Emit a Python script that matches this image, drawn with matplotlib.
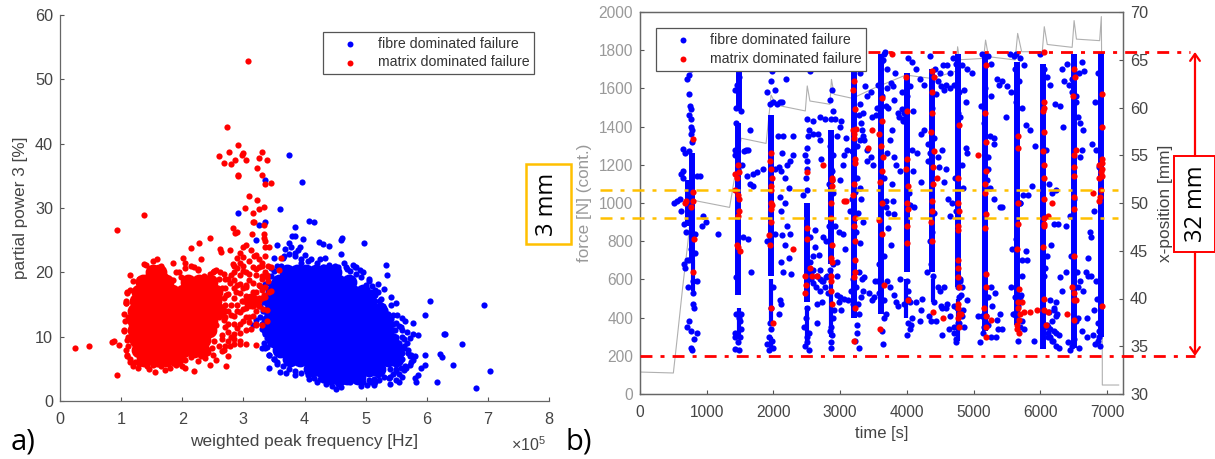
import matplotlib
matplotlib.use("Agg")
import matplotlib.pyplot as plt
from matplotlib.patches import Rectangle

plt.rcParams['font.family'] = ['Liberation Sans', 'DejaVu Sans']
plt.rcParams['mathtext.default'] = 'regular'

W, H = 1215, 459
BLUE = '#0000ff'
RED = '#ff0000'
YEL = '#ffc000'

# ---- a) the dense middle of each cloud, one list of x per y level
blue_core = {
    20.0: [3.72, 3.88, 4.02, 4.18, 4.32, 4.48],
    18.5: [3.58, 3.74, 3.9, 4.06, 4.22, 4.38, 4.54, 4.72],
    17.0: [3.48, 3.64, 3.8, 3.96, 4.12, 4.28, 4.44, 4.6, 4.78, 4.96],
    15.5: [3.46, 3.62, 3.78, 3.94, 4.1, 4.26, 4.42, 4.58, 4.74, 4.9, 5.06],
    14.0: [3.45, 3.61, 3.77, 3.93, 4.09, 4.25, 4.41, 4.57, 4.73, 4.89, 5.05, 5.18],
    12.5: [3.42, 3.58, 3.74, 3.9, 4.06, 4.22, 4.38, 4.54, 4.7, 4.86, 5.02, 5.18, 5.3],
    11.0: [3.42, 3.58, 3.74, 3.9, 4.06, 4.22, 4.38, 4.54, 4.7, 4.86, 5.02, 5.18, 5.34],
    9.5: [3.5, 3.66, 3.82, 3.98, 4.14, 4.3, 4.46, 4.62, 4.78, 4.94, 5.1, 5.26, 5.42],
    8.0: [3.6, 3.76, 3.92, 4.08, 4.24, 4.4, 4.56, 4.72, 4.88, 5.04, 5.2, 5.36, 5.5],
    6.5: [3.76, 3.92, 4.08, 4.24, 4.4, 4.56, 4.72, 4.88, 5.04, 5.2, 5.36, 5.5],
    5.0: [4.1, 4.26, 4.42, 4.58, 4.74, 4.9, 5.06, 5.2],
    3.8: [4.4, 4.55, 4.7, 4.88],
}
red_core = {
    20.0: [1.52, 1.62],
    18.5: [1.36, 1.55, 1.74, 2.1, 2.28, 2.46],
    17.0: [1.3, 1.48, 1.66, 1.84, 2.02, 2.2, 2.38, 2.54],
    15.5: [1.26, 1.44, 1.62, 1.8, 1.98, 2.16, 2.34, 2.52, 3.12],
    14.0: [1.22, 1.4, 1.58, 1.76, 1.94, 2.12, 2.3, 2.48, 2.6],
    12.5: [1.22, 1.4, 1.58, 1.76, 1.94, 2.12, 2.3, 2.46],
    11.0: [1.22, 1.4, 1.58, 1.76, 1.94, 2.12, 2.3, 2.44],
    9.5: [1.26, 1.44, 1.62, 1.8, 1.98, 2.16, 2.34],
    8.0: [1.3, 1.48, 1.66, 1.84, 2.02, 2.2, 2.32],
    6.5: [1.38, 1.56, 1.74, 1.9],
}

# ---- a) single events, read off around the edge of the clouds
blue_x = [3.74, 3.96, 3.35, 2.92, 3.6, 3.35, 3.25, 4.07, 4.15, 3.84, 3.2, 3.8, 3.85, 3.98, 4.24, 4.3, 4.4, 4.62, 4.6, 4.97,
          3.55, 3.75, 3.78, 3.68, 3.92, 3.9, 4.6, 4.34, 3.5, 5.33, 5.35, 5.05, 5.1, 5.15, 5.3, 5.2, 5.42, 5.25, 5.42, 5.5,
          6.05, 5.97, 6.28, 6.3, 6.58, 6.22, 6.25, 6.43, 7.03, 6.93, 6.8, 6.17, 5.78, 5.85, 5.78, 5.72, 5.65, 5.6, 5.52, 5.45,
          5.97, 5.97, 5.9, 5.85, 5.8, 5.82, 5.6, 5.5, 5.55, 5.4, 5.2, 5.13, 5.13, 5.02, 4.92, 4.62, 4.6, 4.52, 4.45, 4.3,
          4.07, 3.85, 3.7, 3.6, 3.42, 3.55, 3.35, 3.3, 3.15, 3.2, 3.3, 3.28, 3.35, 4.65, 4.5, 4.8, 4.85, 4.9, 4.95, 4.7,
          4.4, 4.1, 4.0, 3.85, 5.0, 5.6, 5.7, 5.8, 5.75, 5.65, 5.5, 5.45, 5.35, 5.3, 5.25, 5.48, 5.58, 5.68, 5.72, 5.62,
          4.2, 4.35, 4.55, 4.75, 5.08, 4.25, 3.95, 3.62, 3.45, 3.38, 3.42, 3.5, 5.55, 5.62, 5.4, 5.52, 5.2, 5.05, 4.82, 3.66,
          3.55, 3.65, 3.75, 3.85, 3.95, 4.05, 4.2, 4.3, 4.45, 4.55, 4.68, 4.75, 4.85, 4.92, 5.0, 5.08, 5.15, 5.22, 5.28, 5.32,
          5.36, 5.42, 5.5, 5.55, 5.6, 5.62, 5.68, 5.62, 5.7, 5.74, 5.78, 5.72, 5.66, 5.58, 5.5, 5.45, 5.38, 5.3, 5.22, 5.15,
          5.05, 4.95, 4.85, 4.75, 4.65, 4.55, 4.4, 4.25, 4.15, 4.05, 3.95, 3.85, 3.75, 3.65, 3.55, 3.5, 3.42, 3.38, 3.34, 3.36,
          3.3, 3.28, 3.32, 3.34, 3.4, 3.42, 3.45, 3.5, 5.45, 5.5, 5.55, 5.5, 5.6, 5.55, 5.6, 5.4, 5.45, 5.5]
blue_y = [38.2, 34.1, 34.3, 29.2, 29.9, 27.9, 27.4, 28.0, 27.9, 27.1, 25.0, 25.7, 25.7, 25.2, 24.7, 24.4, 24.1, 25.4, 25.0, 24.6,
          24.2, 24.5, 24.0, 23.6, 24.0, 23.5, 22.9, 22.3, 22.3, 21.1, 19.6, 18.6, 17.8, 17.3, 17.4, 16.9, 16.1, 15.9, 15.0, 15.2,
          15.5, 13.4, 10.4, 10.4, 8.9, 7.3, 6.8, 5.6, 4.7, 15.0, 2.0, 3.0, 12.2, 10.2, 10.4, 9.8, 12.5, 12.9, 13.4, 13.4,
          7.2, 5.6, 5.2, 4.0, 3.5, 3.0, 3.7, 3.3, 2.9, 2.6, 4.0, 3.4, 2.5, 2.5, 2.3, 3.0, 2.1, 1.9, 2.4, 3.2,
          3.4, 4.1, 4.3, 4.5, 5.2, 5.8, 8.2, 8.3, 11.8, 12.6, 12.0, 14.8, 18.2, 21.5, 21.0, 21.2, 20.8, 20.4, 20.0, 20.5,
          21.2, 22.0, 22.7, 22.5, 17.5, 10.0, 8.0, 7.0, 6.0, 5.5, 5.0, 12.0, 13.5, 14.5, 15.0, 11.0, 11.5, 10.8, 7.0, 8.6,
          2.9, 2.7, 2.8, 2.9, 3.0, 22.0, 21.5, 21.0, 20.6, 9.8, 7.2, 6.5, 4.2, 4.8, 3.8, 6.3, 18.2, 19.0, 20.8, 22.6,
          21.0, 22.2, 22.8, 23.0, 22.0, 21.8, 21.5, 20.8, 20.5, 20.8, 20.9, 20.2, 19.8, 19.3, 18.0, 17.0, 16.4, 15.6, 14.8, 14.2,
          13.6, 12.8, 12.2, 11.6, 11.0, 9.6, 9.0, 8.2, 7.4, 7.2, 6.4, 5.6, 5.2, 5.2, 4.6, 4.2, 3.6, 3.8, 3.2, 3.0,
          3.2, 3.0, 3.1, 3.3, 3.6, 2.6, 3.2, 3.4, 3.6, 4.0, 4.3, 4.6, 5.0, 5.4, 6.0, 6.6, 7.2, 8.4, 9.0, 10.4,
          11.2, 13.0, 14.0, 15.4, 16.4, 18.4, 19.5, 20.2, 11.0, 10.0, 9.0, 7.5, 6.5, 6.0, 7.5, 5.0, 6.0, 8.6]

red_x = [0.24, 0.47, 0.85, 0.89, 0.97, 0.94, 0.93, 1.38, 3.08, 2.74, 2.92, 2.77, 2.6, 2.68, 2.8, 2.87, 2.98, 3.0, 3.05, 3.3,
         3.25, 3.38, 3.23, 3.3, 2.92, 2.92, 3.35, 3.45, 3.1, 3.23, 3.02, 3.25, 3.15, 3.33, 3.15, 3.18, 3.34, 2.83, 2.9, 2.87,
         3.14, 3.33, 3.34, 3.35, 3.36, 3.42, 2.45, 2.28, 2.14, 2.61, 2.63, 2.78, 2.83, 2.9, 2.95, 3.0, 3.05, 3.12, 3.2, 3.25,
         3.3, 3.35, 3.4, 3.45, 3.62, 3.58, 2.02, 2.05, 2.3, 2.25, 1.85, 1.95, 1.37, 1.15, 1.1, 1.08, 1.05, 1.08, 1.14, 1.2,
         1.28, 1.45, 1.55, 1.65, 1.9, 2.0, 2.05, 2.2, 2.38, 2.5, 2.55, 2.72, 2.75, 2.65, 2.7, 2.85, 2.95, 3.05, 3.2, 2.65,
         2.7, 2.8, 2.9, 3.0, 3.1, 2.8, 2.9, 3.0, 3.1, 3.2, 3.3, 2.72, 2.85, 2.95, 3.05, 3.15, 3.25, 3.3, 2.75, 2.85,
         3.0, 3.1, 3.2, 3.3, 3.38, 3.35, 3.4, 3.35, 3.42, 3.45, 3.38, 3.32, 3.38, 3.26, 3.2, 2.62, 2.68, 2.78, 2.88, 2.98,
         3.05, 3.15, 3.25, 3.3, 1.08, 1.12, 1.12, 1.1, 2.45, 2.4, 2.35, 2.6, 2.7, 1.32, 1.72, 1.8, 2.55, 2.5, 2.2, 1.88,
         1.1, 1.15, 1.2, 1.3, 1.4, 1.4, 1.48, 1.52, 1.58, 1.65, 1.68, 1.72, 1.85, 1.9, 1.98, 2.05, 2.15, 2.25, 2.35, 2.45,
         2.52, 2.6, 2.65, 2.68, 1.08, 1.05, 1.06, 1.04, 1.1, 1.12, 1.1, 1.15, 1.22, 1.3, 1.42, 1.52, 1.6, 1.7, 1.85, 1.95,
         2.05, 2.15, 2.25, 2.3, 2.42, 2.48, 2.52, 2.5, 2.55, 2.6, 2.62, 2.7, 2.75, 2.68,
         2.7, 2.8, 2.85, 2.9, 2.95, 3.0, 3.05, 3.1, 3.15, 3.2, 3.25, 3.3, 3.1, 3.05, 3.0, 2.95, 2.85, 2.8, 2.9, 3.0,
         3.1, 3.2, 3.28, 3.33, 3.25, 3.15, 3.05, 2.95, 2.85, 2.75, 2.85, 2.95, 3.05, 3.15, 3.2, 2.75, 2.85, 2.95, 3.05, 3.12,
         2.65, 2.75, 2.85, 2.95, 2.6, 2.68, 2.78, 2.75, 2.7, 2.9, 3.0, 3.18, 3.3, 3.35, 3.38, 2.85, 2.95]
red_y = [8.2, 8.6, 9.1, 9.3, 8.7, 4.0, 26.6, 28.9, 52.8, 42.6, 39.8, 38.7, 38.1, 37.0, 36.8, 37.5, 38.2, 38.5, 37.4, 38.7,
         37.7, 37.5, 36.2, 35.2, 35.2, 35.0, 33.8, 33.9, 31.9, 31.3, 30.0, 29.8, 29.2, 30.1, 27.8, 27.8, 27.3, 26.9, 26.3, 26.1,
         25.9, 25.9, 25.4, 24.9, 24.0, 24.0, 25.3, 24.5, 23.8, 23.6, 23.2, 23.4, 21.3, 22.2, 23.0, 24.0, 24.2, 23.5, 22.7, 22.0,
         21.5, 22.5, 21.0, 20.8, 22.3, 20.3, 22.3, 21.5, 22.0, 20.5, 21.4, 20.0, 21.3, 19.6, 16.9, 15.3, 10.9, 8.0, 6.1, 5.5,
         5.2, 5.0, 4.5, 5.5, 5.6, 5.4, 5.2, 4.7, 6.7, 7.1, 6.3, 5.4, 7.0, 7.8, 8.5, 8.8, 8.9, 8.9, 8.7, 10.2,
         11.5, 10.0, 11.3, 12.5, 12.3, 13.3, 14.0, 14.3, 13.0, 12.0, 11.8, 16.5, 17.5, 18.2, 17.7, 18.3, 18.0, 16.0, 19.0, 20.0,
         20.2, 19.8, 20.5, 19.5, 19.2, 17.7, 18.6, 16.2, 17.0, 17.1, 14.2, 14.3, 12.4, 14.8, 11.8, 20.1, 19.7, 18.3, 17.0, 15.6,
         16.3, 17.0, 16.0, 17.2, 15.5, 13.0, 10.0, 7.2, 5.6, 7.4, 8.2, 16.0, 13.0, 18.7, 4.8, 5.1, 20.3, 20.0, 20.8, 5.9,
         16.8, 17.2, 18.6, 19.0, 19.3, 21.2, 20.5, 21.8, 22.0, 21.0, 20.2, 19.5, 18.8, 20.0, 19.2, 20.6, 21.0, 20.4, 19.5, 19.8,
         20.2, 19.0, 17.5, 16.0, 15.3, 13.5, 12.5, 11.0, 9.5, 8.5, 7.0, 6.5, 6.0, 5.8, 5.4, 5.6, 5.8, 6.0, 6.2, 6.0,
         6.4, 6.8, 6.2, 7.0, 7.6, 8.2, 9.4, 10.8, 11.8, 13.0, 14.4, 15.0, 14.0, 12.6,
         19.0, 19.6, 18.8, 20.6, 19.6, 21.0, 20.0, 21.8, 20.8, 19.6, 20.8, 19.0, 18.8, 18.0, 17.5, 16.8, 16.0, 15.0, 15.0, 15.5,
         16.0, 17.0, 17.8, 16.5, 15.6, 14.8, 14.4, 13.8, 13.2, 12.0, 12.0, 12.0, 13.0, 13.2, 14.0, 10.8, 10.4, 10.6, 11.0, 11.2,
         9.6, 9.4, 9.6, 9.3, 8.5, 8.0, 8.6, 16.6, 17.6, 18.0, 22.4, 22.6, 21.0, 20.0, 19.6, 21.0, 21.5]

# ---- b) force curve
force_t = [0, 500, 560, 640, 720, 780, 860, 1343, 1517, 1890, 1965, 2040, 2478, 2507, 2547, 2846, 2870, 2910, 3184, 3500,
           3985, 4373, 4735, 4761, 4790, 5150, 5180, 5224, 5623, 5661, 5721, 6030, 6060, 6105, 6478, 6507, 6542, 6890, 6915, 6925, 6930, 7175]
force_f = [115, 110, 300, 560, 800, 1020, 1010, 977, 1339, 1312, 1565, 1513, 1482, 1613, 1534, 1517, 1647, 1569, 1548, 1600,
           1670, 1652, 1690, 1818, 1750, 1757, 1853, 1766, 1749, 1888, 1792, 1792, 1923, 1830, 1815, 1955, 1858, 1850, 1976, 1500, 47, 47]

# ---- b) stretches where events overlap into a solid column: time, force from, force to
span_t = [780, 720, 1470, 1478, 1965, 2497, 2868, 3209, 3607, 4004, 4378, 4761, 5174, 5657, 6045, 6507, 6906]
span_lo = [700, 880, 520, 1480, 620, 480, 680, 400, 420, 640, 640, 560, 330, 360, 235, 240, 300]
span_hi = [1260, 1120, 1420, 1700, 1460, 1000, 1380, 1780, 1780, 1680, 1700, 1780, 1790, 1740, 1730, 1780, 1790]
thin_t = [790, 1480, 1960, 1965, 2500, 2870, 3990, 4385, 4770]
thin_lo = [540, 300, 230, 370, 260, 300, 400, 480, 280]
thin_hi = [700, 450, 300, 600, 460, 640, 600, 600, 500]

# ---- b) single fibre events, burst by burst
fib_t = [700, 730, 760, 740, 750, 770, 730, 760, 770, 780, 760, 780, 640, 670, 740, 610, 640, 650, 860, 900,
         510, 560, 600, 620, 950, 990, 930, 1170, 660, 690, 830, 700, 660, 670, 760, 830, 730, 800, 850, 720,
         800, 790, 810, 740, 700, 770, 850, 810, 770, 780,
         1420, 1440, 1650, 1590, 1560, 1620, 1420, 1470, 1600, 1700, 1760, 1840, 1650, 1700, 1530, 1420, 1550, 1620, 1660, 1440,
         1430, 1470, 1490, 1430, 1500, 1480, 1440, 1510, 1430, 1500, 1510, 1440, 1480, 1520, 1450,
         1910, 1950, 2000, 2100, 2030, 2190, 2130, 2050, 2130, 2250, 2210, 2110, 2090, 2170, 2230, 2300, 2290, 2150, 2070, 2020,
         2130, 2250, 2170, 2230, 2110, 2150, 2270, 2100, 2180, 2120, 2200, 2080, 2100, 2110, 2030, 1900, 1900, 1940, 1990, 1930,
         1960, 1980, 1950, 1970, 1990, 1960, 1975,
         2550, 2500, 2590, 2700, 2780, 2530, 2600, 2670, 2700, 2500, 2510, 2510, 2720, 2440, 2550, 2600, 2650, 2700, 2750, 2800,
         2850, 2900, 2950, 2700, 2640, 2780, 2820, 2660, 2730, 2600, 2560, 2600, 2620, 2680, 2550, 2630, 2750, 2790, 2700, 2650,
         2460, 2530, 2480, 2510, 2490, 2500, 2790, 2950, 2520, 2490, 2510, 2480, 2500, 2530, 2730, 2570,
         2880, 2850, 2900, 3020, 2920, 3000, 2960, 2870, 2850, 2900, 3090, 3100, 3060, 3040, 2860, 2880, 2840, 2900, 2880, 3000,
         2920, 2980, 3050, 3080, 2950, 3000, 2870, 2860, 2880, 2890, 2850, 2910, 3010, 2990, 3060, 3120, 2860, 2830,
         3300, 3370, 3400, 3460, 3550, 3300, 3280, 3340, 3480, 3330, 3260, 3180, 3300, 3350, 3410, 3460, 3500, 3540, 3570, 3320,
         3360, 3410, 3250, 3230, 3180, 3150, 3270, 3300, 3320, 3350, 3280, 3330, 3240, 3170, 3270, 3310, 3200, 3350, 3290, 3260,
         3250, 3220, 3300, 3240, 3190, 3290, 3360, 3440, 3510, 3480, 3570, 3520, 3590, 3650, 3660,
         3610, 3700, 3820, 3760, 3620, 3580, 3680, 3720, 3800, 3880, 3920, 3940, 3860, 3780, 3740, 3700, 3830, 3900, 3770, 3660,
         3680, 3710, 3790, 3810, 3720, 3760, 3650, 3590, 3600, 3630, 3680, 3700, 3740, 3620, 3640, 3810, 3830, 3680, 3700, 3640,
         3660, 3670, 3920, 3790, 3800,
         4020, 4070, 4130, 4200, 4260, 4040, 4000, 4090, 3960, 3940, 4250, 4310, 4210, 4080, 4150, 4090, 4210, 4030, 4050, 4100,
         4000, 4020, 4010, 4050, 4080, 4060, 4190, 4140, 4230, 3900, 3860, 3960, 4010, 4040, 4000, 4210,
         4350, 4420, 4500, 4540, 4600, 4640, 4470, 4510, 4430, 4550, 4590, 4380, 4400, 4340, 4310, 4460, 4530, 4480, 4580, 4560,
         4620, 4400, 4370, 4350, 4360, 4390, 4460, 4490, 4520, 4600, 4560, 4330, 4360, 4430, 4400, 4510, 4590, 4630, 4300, 4520,
         4690, 4740, 4830, 4900, 4980, 4700, 4650, 4780, 4850, 4890, 4760, 4800, 4890, 4900, 4820, 4720, 4840, 4680, 4730, 4650,
         4770, 4800, 4840, 4650, 4700, 4820, 4780, 4830, 4900, 4700, 4760, 4740, 4780, 4740, 4700, 4750, 4800, 4860, 4790, 4810,
         5130, 5210, 5260, 5350, 5420, 5500, 5490, 5150, 5240, 5300, 5220, 5310, 5170, 5260, 5380, 5110, 5210, 5200, 5250, 5300,
         5400, 5430, 5280, 5320, 5060, 5120, 5180, 5220, 5260, 5350, 5400, 5430, 5150, 5180, 5210, 5260, 5100, 5330, 5360, 5140,
         5550, 5600, 5640, 5700, 5760, 5620, 5680, 5560, 5640, 5720, 5780, 5850, 5920, 5810, 5870, 5700, 5690, 5740, 5640, 5580,
         5720, 5780, 5800, 5720, 5560, 5620, 5700, 5660, 5710, 5630, 5590, 5670, 5600, 5720, 5690, 5670, 5900, 5760,
         6000, 6060, 6100, 6150, 6220, 6290, 6340, 6090, 6130, 6180, 6240, 6270, 6210, 6160, 6100, 6070, 6300, 6230, 6200, 6130,
         6090, 6150, 6200, 6240, 6280, 6120, 6170, 6230, 6280, 6100, 6150, 6190, 6250, 6120, 6170, 6210, 6150, 6240, 6110, 6060,
         6330, 6360, 6400, 6470, 6540, 6580, 6620, 6660, 6430, 6480, 6530, 6560, 6600, 6640, 6620, 6590, 6500, 6440, 6380, 6460,
         6550, 6600, 6640, 6680, 6720, 6760, 6560, 6540, 6620, 6700, 6420, 6470, 6500, 6440, 6580, 6560, 6390, 6330,
         6870, 6820, 6780, 6840, 6880, 6800, 6740, 6720, 6760, 6830, 6850, 6810, 6860, 6880, 6820, 6790, 6700, 6900, 6860, 6880]
fib_f = [1650, 1670, 1700, 1570, 1510, 1490, 1460, 1440, 1400, 1380, 1360, 1320, 1285, 1260, 1270, 1150, 1170, 1130, 1140, 1140,
         1000, 1010, 1020, 960, 930, 900, 880, 840, 890, 850, 840, 700, 680, 660, 760, 740, 700, 590, 590, 560,
         530, 470, 450, 380, 350, 330, 320, 290, 240, 230,
         1590, 1420, 1380, 1280, 1270, 1280, 1250, 1180, 1140, 1150, 1160, 1180, 1100, 1090, 1200, 1280, 820, 810, 640, 610,
         300, 270, 230, 320, 300, 400, 420, 420, 235, 380, 340, 1500, 1660, 1480, 1620,
         1580, 1520, 1530, 1530, 1590, 1650, 1530, 1520, 1260, 1220, 1200, 1170, 1190, 1130, 1080, 1250, 1350, 1350, 1350, 1180,
         830, 840, 780, 710, 690, 640, 630, 1030, 1000, 960, 880, 420, 490, 470, 840, 800, 260, 230, 240, 300,
         340, 280, 370, 450, 560, 1640, 1690,
         1690, 1440, 1430, 1450, 1440, 1380, 1360, 1360, 1330, 1290, 1220, 1180, 1230, 1040, 690, 650, 620, 600, 590, 620,
         650, 680, 690, 540, 560, 560, 530, 470, 480, 580, 600, 720, 770, 730, 820, 860, 820, 800, 650, 370,
         350, 230, 250, 300, 400, 450, 610, 620, 1350, 1130, 1070, 1250, 270, 320, 590, 640,
         1590, 1540, 1480, 1430, 1440, 1400, 1350, 1440, 1300, 1250, 1340, 1280, 1250, 1200, 1180, 1120, 1100, 1050, 1170, 1120,
         880, 850, 840, 760, 520, 510, 350, 270, 310, 400, 330, 440, 440, 480, 500, 490, 240, 880,
         1680, 1610, 1560, 1580, 1500, 1520, 1460, 1470, 1450, 1380, 1300, 1270, 1330, 1350, 1280, 1240, 1200, 1460, 1620, 1420,
         1330, 1220, 1130, 1060, 1020, 960, 950, 1080, 1020, 900, 640, 600, 560, 540, 470, 510, 470, 540, 420, 360,
         320, 280, 790, 850, 600, 240, 610, 530, 510, 490, 590, 590, 530, 490, 400,
         1740, 1700, 1680, 1630, 1560, 1500, 1510, 1500, 1540, 1450, 1490, 1440, 1470, 1380, 1330, 1260, 1200, 1170, 1100, 1130,
         1010, 950, 1010, 940, 870, 780, 720, 680, 590, 490, 420, 590, 560, 330, 260, 520, 480, 980, 1600, 1750,
         1780, 1790, 1580, 1610, 1240,
         1760, 1740, 1700, 1650, 1620, 1610, 1560, 1480, 1470, 1430, 1380, 1310, 1360, 1280, 1260, 1170, 1110, 1050, 990, 980,
         590, 500, 540, 480, 400, 360, 380, 480, 500, 600, 460, 470, 370, 340, 310, 440,
         1770, 1700, 1680, 1720, 1720, 1680, 1640, 1610, 1570, 1590, 1620, 1500, 1340, 1260, 1220, 1240, 1280, 1190, 1180, 1110,
         1020, 950, 850, 800, 680, 620, 560, 540, 450, 470, 560, 410, 380, 380, 480, 460, 450, 340, 640, 310,
         1760, 1730, 1720, 1700, 1680, 1620, 1600, 1580, 1590, 1530, 1470, 1450, 1290, 1260, 1200, 1130, 1080, 1000, 960, 930,
         560, 590, 440, 410, 460, 410, 510, 560, 490, 350, 370, 290, 370, 270, 320, 450, 430, 350, 600, 520,
         1780, 1770, 1730, 1650, 1640, 1610, 1450, 1420, 1350, 1310, 1240, 1340, 1600, 1560, 1620, 1510, 1180, 1120, 1080, 1020,
         980, 980, 460, 530, 410, 410, 410, 510, 560, 390, 420, 340, 350, 370, 360, 300, 270, 300, 340, 320,
         1780, 1770, 1780, 1760, 1720, 1700, 1640, 1580, 1530, 1500, 1410, 1380, 1300, 1040, 1090, 1000, 1000, 1040, 810, 760,
         700, 750, 700, 620, 560, 510, 510, 500, 520, 410, 420, 460, 420, 380, 350, 280, 280, 340,
         1780, 1700, 1660, 1620, 1520, 1510, 1400, 1280, 1100, 1050, 1070, 890, 890, 780, 720, 660, 610, 480, 440, 430,
         350, 340, 330, 320, 310, 300, 280, 250, 240, 360, 300, 280, 420, 350, 380, 450, 490, 410, 320, 620,
         1700, 1640, 1730, 1650, 1560, 1680, 1740, 1690, 1620, 1580, 1530, 1450, 1420, 1380, 1280, 1240, 1020, 930, 880, 720,
         640, 590, 540, 640, 710, 820, 400, 380, 330, 300, 270, 250, 290, 230, 240, 560, 640, 540,
         1680, 1530, 1310, 1280, 1190, 960, 850, 620, 620, 590, 500, 440, 370, 300, 260, 310, 400, 250, 280, 330]

# ---- b) matrix events
mat_t = [790, 690, 790, 770, 670, 800, 810, 790,
         1470, 1430, 1460, 1490, 1430, 1470, 1490, 1480, 1470, 1460, 1500, 1470,
         1960, 1950, 1970, 1980, 1960, 1960, 1970, 1970, 1980, 1970, 1930, 1950, 1960, 1990, 2290,
         2510, 2510, 2480, 2470, 2580, 2550, 2660, 2500, 2490,
         2740, 2880, 2880, 2860, 2880, 2870, 2880, 2860, 2870, 2880, 2870, 3060, 3090, 2870, 2880,
         3210, 3210, 3200, 3220, 3190, 3210, 3240, 3210, 3230, 3220, 3210, 3200, 3230, 3210, 3220, 3230, 3230, 3210, 3220, 3210,
         3620, 3620, 3590, 3610, 3640, 3620, 3600, 3620, 3590, 3650, 3480, 3420, 3600, 3780, 3620,
         3980, 4000, 4000, 3990, 4010, 4000, 4010, 4000, 4000, 4010,
         4380, 4400, 4370, 4380, 4360, 4400, 4390, 4450, 4390, 4380, 4370, 4360, 4370, 4540, 4390,
         4780, 4770, 4760, 4780, 4770, 4760, 4770, 4770, 4760, 4780, 4770, 4770, 4760, 4780, 4780, 4810,
         5180, 5170, 5190, 5180, 5070, 5170, 5170, 5190, 5170, 5180, 5180, 5160, 5190, 5190, 5260, 5190,
         5670, 5660, 5670, 5660, 5650, 5680, 5660, 5670, 5700, 5650, 5680, 5650, 5680, 5720, 5850, 5760,
         6050, 6060, 6060, 6040, 6050, 6040, 6060, 6050, 6060, 6050, 6050, 6180, 6050, 6120, 6040, 6060, 6050, 5950, 6120, 6090,
         6500, 6490, 6520, 6530, 6510, 6500, 6500, 6510, 6500, 6510, 6480, 6500, 6500, 6400, 6510, 6540,
         6930, 6930, 6930, 6920, 6880, 6910, 6910, 6900, 6790, 6880, 6880, 6930, 6930, 6930]
mat_f = [1335, 1010, 1060, 980, 1000, 1010, 810, 640,
         1200, 1150, 1130, 1160, 1070, 1040, 1020, 960, 930, 780, 750, 770,
         1260, 1220, 1180, 1130, 1090, 1070, 1000, 970, 990, 900, 830, 780, 450, 370, 760,
         1160, 810, 620, 530, 620, 660, 620, 870, 570,
         1200, 1130, 1090, 1000, 780, 710, 690, 620, 590, 470, 540, 1010, 1010, 920, 1120,
         1720, 1640, 1590, 1490, 1380, 1360, 1390, 1340, 1230, 1210, 1100, 1040, 920, 880, 800, 700, 640, 610, 450, 280,
         1550, 1430, 1360, 1300, 1240, 1170, 1110, 1000, 910, 570, 1380, 1290, 340, 1780, 840,
         1660, 1480, 1230, 1180, 1090, 1000, 970, 880, 790, 490,
         1690, 1660, 1580, 1470, 1370, 1270, 1190, 1130, 1100, 1010, 960, 900, 800, 400, 430,
         1410, 1130, 1000, 960, 880, 860, 700, 660, 610, 560, 470, 450, 400, 420, 350, 420,
         1720, 1470, 1320, 1170, 1250, 1100, 1050, 940, 870, 630, 560, 450, 410, 350, 390, 300,
         1350, 1290, 1000, 890, 760, 550, 480, 450, 420, 360, 390, 340, 320, 480, 430, 430,
         1790, 1530, 1500, 1480, 1370, 1270, 1200, 1130, 1020, 920, 890, 1000, 880, 930, 770, 500, 440, 440, 430, 360,
         1700, 1560, 1660, 1280, 1250, 1190, 1140, 720, 1030, 970, 560, 530, 390, 420, 490, 490,
         1400, 1180, 1210, 1140, 1130, 1160, 1070, 1030, 1050, 1010, 1200, 1230, 1570, 460]

fig = plt.figure(figsize=(W / 100, H / 100), dpi=100)


def axes_px(x0, y0, x1, y1):
    return fig.add_axes([x0 / W, 1 - y1 / H, (x1 - x0) / W, (y1 - y0) / H])


# a)
ax1 = axes_px(60, 15, 549, 401)
for row, xs in blue_core.items():
    ax1.scatter(xs, [row] * len(xs), s=130, color=BLUE, lw=0, zorder=2)
ax1.scatter(blue_x, blue_y, s=20, color=BLUE, lw=0, zorder=2)
for row, xs in red_core.items():
    ax1.scatter(xs, [row] * len(xs), s=130, color=RED, lw=0, zorder=3)
ax1.scatter(red_x, red_y, s=20, color=RED, lw=0, zorder=3)
ax1.set_xlim(0, 8)
ax1.set_ylim(0, 60)
ax1.set_xticks(range(0, 9))
ax1.set_yticks(range(0, 61, 10))
ax1.spines[['top', 'right']].set_visible(False)
ax1.set_xlabel('weighted peak frequency [Hz]', fontsize=12.4, color='#444444', labelpad=5)
ax1.set_ylabel('partial power 3 [%]', fontsize=12.3, color='#444444', labelpad=5)

# b)
ax2 = axes_px(640, 12, 1123, 394)
ax2.plot(force_t, force_f, color='#b0b0b0', lw=0.8, zorder=1)
ax2.vlines(span_t, span_lo, span_hi, color=BLUE, lw=4.3, zorder=2)
ax2.vlines(thin_t, thin_lo, thin_hi, color=BLUE, lw=3, zorder=2)
ax2.scatter(fib_t, fib_f, s=20, color=BLUE, lw=0, zorder=2)
ax2.scatter(mat_t, mat_f, s=20, color=RED, lw=0, zorder=3)
ax2.set_xlim(0, 7240)
ax2.set_ylim(0, 2000)
ax2.set_xticks(range(0, 7001, 1000))
ax2.set_yticks(range(0, 2001, 200))
ax2.set_xlabel('time [s]', fontsize=12, color='#444444', labelpad=4)
ax2.set_ylabel('force [N] (cont.)', fontsize=12.3, color='#999999', labelpad=5)

ax3 = ax2.twinx()
ax3.set_ylim(30, 70)
ax3.set_yticks(range(30, 71, 5))
ax3.set_ylabel('x-position [mm]', fontsize=12.4, color='#444444', labelpad=7)

for ax, size in ((ax1, 11.7), (ax2, 11.2), (ax3, 11.7)):
    ax.tick_params(direction='in', length=3, width=0.8, color='#555555', labelcolor='#444444', labelsize=size, pad=5)
    for s in ax.spines.values():
        s.set_color('#666666')
        s.set_linewidth(0.9)
ax1.tick_params(axis='x', pad=8)
ax2.tick_params(axis='x', pad=8)
ax2.tick_params(axis='y', labelcolor='#999999')

# sheet drawn over the plots, in pixels of the picture
over = fig.add_axes([0, 0, 1, 1], zorder=10)
over.set_xlim(0, W)
over.set_ylim(H, 0)
over.axis('off')
over.patch.set_alpha(0)

over.plot([600, 1118], [190, 190], color=YEL, lw=1.8, ls=(0, (4.8, 3.2, 1.6, 3.2)))
over.plot([600, 1118], [217.5, 217.5], color=YEL, lw=1.8, ls=(0, (4.8, 3.2, 1.6, 3.2)))
over.plot([868, 1190], [52, 52], color=RED, lw=2, ls=(0, (4.3, 2.9, 1.45, 2.9)))
over.plot([640, 1195], [356, 356], color=RED, lw=2, ls=(0, (4.3, 2.9, 1.45, 2.9)))
over.annotate('', xy=(1195, 52), xytext=(1195, 156),
              arrowprops=dict(arrowstyle='->,head_width=0.35,head_length=0.5', color=RED, lw=1.6, shrinkA=0, shrinkB=0))
over.annotate('', xy=(1195, 356), xytext=(1195, 252),
              arrowprops=dict(arrowstyle='->,head_width=0.35,head_length=0.5', color=RED, lw=1.6, shrinkA=0, shrinkB=0))
over.add_patch(Rectangle((526, 163.5), 45, 80, fc='white', ec=YEL, lw=1.8))
over.add_patch(Rectangle((1174, 156), 41, 96, fc='white', ec=RED, lw=1.4))
over.text(547, 204, '3 mm', rotation=90, ha='center', va='center', fontsize=17, family='Open Sans')
over.text(1196, 204, '32 mm', rotation=90, ha='center', va='center', fontsize=17, family='Open Sans')
over.text(11, 442, 'a)', ha='left', va='center', fontsize=21, family='Open Sans')
over.text(566, 442, 'b)', ha='left', va='center', fontsize=21, family='Open Sans')
over.text(511, 445, r'$\times 10^5$', ha='left', va='center', fontsize=11.5, color='#444444')


def legend_box(x0, y0, x1, y1, tx, mx):
    # white box with two marker rows, same look in both panels
    over.add_patch(Rectangle((x0, y0), x1 - x0, y1 - y0, fc='white', ec='#555555', lw=0.9, zorder=5))
    rows = [(y0 + 12, BLUE, 'fibre dominated failure'), (y0 + 31, RED, 'matrix dominated failure')]
    for yy, col, lab in rows:
        over.plot([mx], [yy], 'o', color=col, ms=4.3, mew=0, zorder=6)
        over.text(tx, yy, lab, fontsize=10.2, color='#333333', va='center', zorder=6)


legend_box(323, 31.5, 534, 73.5, 378, 350)
legend_box(656, 28, 866, 70.5, 710, 683)

plt.savefig('out.png', dpi=100)
